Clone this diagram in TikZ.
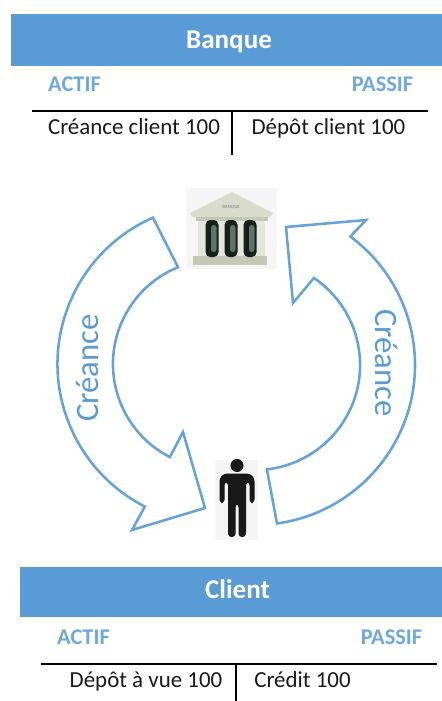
\documentclass[tikz,border=0pt]{standalone}
\usepackage{fontspec}
\setmainfont{Carlito}
\definecolor{hdr}{HTML}{5B9BD5}
\definecolor{arrowc}{HTML}{65A2DA}
\definecolor{sidec}{HTML}{6FA8DC}
\definecolor{stoneA}{HTML}{D9DCCB}
\definecolor{stoneB}{HTML}{C4C8B4}
\definecolor{stoneC}{HTML}{E4E6DA}
\definecolor{colD}{HTML}{14201A}
\definecolor{colL}{HTML}{5E7468}
\tikzset{
  headertext/.style={text=white,font=\fontsize{20.3}{24}\selectfont\bfseries,inner sep=0pt,anchor=base},
  sidelabel/.style={text=sidec,font=\fontsize{16.8}{20}\selectfont\bfseries,inner sep=0pt,anchor=base},
  celltext/.style={text=black!90,font=\fontsize{17.2}{20}\selectfont,inner sep=0pt,anchor=base},
  tline/.style={draw=black,line width=0.9pt},
  bigarrow/.style={draw=arrowc,line width=1.9pt,fill=white,line join=miter},
  arrowlabel/.style={text=hdr,font=\fontsize{24.5}{28}\selectfont,inner sep=0pt,anchor=center},
}
\begin{document}
\begin{tikzpicture}[x=0.75pt,y=-0.75pt]
\useasboundingbox (0,0) rectangle (442,701);
% Banque table
\fill[hdr] (11,14) rectangle (442,66);
\node[headertext] (banquetitle) at (229,48) {Banque};
\node[sidelabel] (actifA) at (74.5,91) {ACTIF};
\node[sidelabel] (passifA) at (382.5,91) {PASSIF};
\coordinate (a1) at (32,111); \coordinate (a2) at (428,111);
\coordinate (a3) at (232,111); \coordinate (a4) at (232,155);
\draw[tline] (a1) -- (a2);
\draw[tline] (a3) -- (a4);
\node[celltext] (creance) at (134,134) {Créance client 100};
\node[celltext] (depot) at (328.5,134) {Dépôt client 100};
% Client table
\fill[hdr] (20,567) rectangle (442,617);
\node[headertext] (clienttitle) at (237.5,598.5) {Client};
\node[sidelabel] (actifB) at (83.5,644) {ACTIF};
\node[sidelabel] (passifB) at (391.5,644) {PASSIF};
\coordinate (b1) at (41,664); \coordinate (b2) at (437,664);
\coordinate (b3) at (236,664); \coordinate (b4) at (236,701);
\draw[tline] (b1) -- (b2);
\draw[tline] (b3) -- (b4);
\node[celltext] (depotvue) at (146,687) {Dépôt à vue 100};
\node[celltext] (credit) at (302.5,687) {Crédit 100};
% Left arrow
\coordinate (LC) at (217.5,364);
\draw[bigarrow] ([shift={(LC)}]113.8:120pt) arc[start angle=113.8,end angle=243,radius=120pt]
  -- (132,530) -- (205,508) -- (183,432) -- ([shift={(LC)}]242.9:78.4pt)
  arc[start angle=242.9,end angle=112.2,radius=78.4pt] -- cycle;
\node[arrowlabel,rotate=90] (lab1) at (87,368) {Créance};
% Right arrow
\coordinate (RC) at (255,365);
\draw[bigarrow] ([shift={(RC)}]-82.1:120pt) arc[start angle=-82.1,end angle=53.4,radius=120pt]
  -- (366,220) -- (286,227) -- (293,303) -- ([shift={(RC)}]55.9:78.8pt)
  arc[start angle=55.9,end angle=-83.5,radius=78.8pt] -- cycle;
\node[arrowlabel,rotate=-90] (lab2) at (387,363) {Créance};
% Bank icon
\fill[black!4] (186,188) rectangle (277,269);
\fill[stoneC] (198,217) rectangle (265,258);
\fill[stoneB] (193,256) rectangle (267,265);
\fill[stoneA] (232,192) -- (273,213) -- (270,217) -- (192,217) -- (190,213) -- cycle;
\fill[stoneB] (196,217) rectangle (268,221);
\foreach \cx in {212,231,250}{
  \fill[colD,rounded corners=3.5pt] (\cx-6.5,220) rectangle (\cx+6.5,257);
  \fill[colL,rounded corners=2pt] (\cx-1,225) rectangle (\cx+4.5,252);
}
\node[text=black!40,font=\fontsize{3.6}{4}\selectfont\bfseries,inner sep=0pt] (banklabel) at (231,207) {BANQUE};
% Person icon
\fill[black!4] (215,460) rectangle (258,540);
\fill[black!90] (237,465.5) circle[radius=4.9pt];
\fill[black!90,rounded corners=2.5pt] (224,473.5) -- (250,473.5) -- (254.5,478) -- (254.5,503) -- (249.5,503) -- (249.5,482) -- (246,482)
  -- (246,537) -- (238.5,537) -- (238.5,504) -- (235.5,504) -- (235.5,537) -- (228,537) -- (228,482) -- (224.5,482) -- (224.5,503) -- (219.5,503) -- (219.5,478) -- cycle;
\end{tikzpicture}
\end{document}
